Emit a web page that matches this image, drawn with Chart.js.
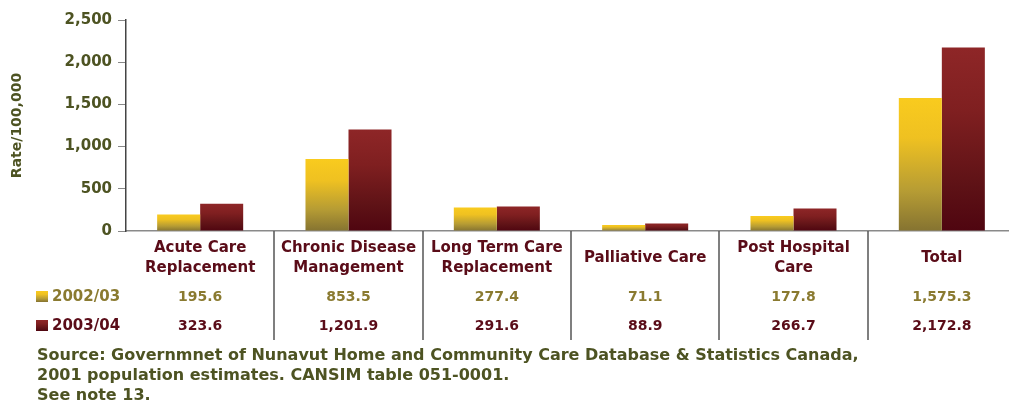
<!DOCTYPE html>
<html>
<head>
<meta charset="utf-8">
<script src="https://cdn.jsdelivr.net/npm/chart.js@4.4.1/dist/chart.umd.min.js"></script>
<style>
  html, body { margin: 0; padding: 0; background: #fff; overflow: hidden; }
  #wrap { width: 1016px; height: 408px; }
</style>
</head>
<body>
<div id="wrap"><canvas id="chart" width="1016" height="408"></canvas></div>
<script>
// Home care rates per 100,000, Nunavut, two fiscal years.
const categories = [
  ['Acute Care', 'Replacement'],
  ['Chronic Disease', 'Management'],
  ['Long Term Care', 'Replacement'],
  'Palliative Care',
  ['Post Hospital', 'Care'],
  'Total',
];
const seriesLabels = ['2002/03', '2003/04'];
const rates0203 = [195.6, 853.5, 277.4, 71.1, 177.8, 1575.3];
const rates0304 = [323.6, 1201.9, 291.6, 88.9, 266.7, 2172.8];
const yTicks = [0, 500, 1000, 1500, 2000, 2500];
const sourceLines = [
  'Source: Governmnet of Nunavut Home and Community Care Database & Statistics Canada,',
  '2001 population estimates. CANSIM table 051-0001.',
  'See note 13.',
];

const FONT = "'DejaVu Sans', sans-serif";
const OLIVE_DARK = '#4d5322';
const OLIVE = '#8a7a30';
const MAROON = '#5a0c18';

// top -> bottom stops for the bar gradients
const YELLOW_STOPS = [[0, '#f9cb1e'], [0.3, '#efc121'], [0.7, '#b69c34'], [1, '#857331']];
const RED_STOPS = [[0, '#8e2627'], [0.35, '#7f1f20'], [0.75, '#5e1216'], [1, '#4f0510']];

const fmt = v => v.toLocaleString('en-US', { minimumFractionDigits: 1, maximumFractionDigits: 1 });

function gradient(ctx, y0, y1, stops) {
  const g = ctx.createLinearGradient(0, y0, 0, y1);
  stops.forEach(([p, c]) => g.addColorStop(p, c));
  return g;
}

// Gradient runs over each bar's own height.
function barFill(stops) {
  return context => {
    const chart = context.chart;
    const y = chart.scales.y;
    if (!chart.chartArea || !y || context.raw == null) return stops[0][1];
    return gradient(chart.ctx, y.getPixelForValue(context.raw), y.getPixelForValue(0), stops);
  };
}

// Data table, legend swatches, dividers and source note under the axis.
const tablePlugin = {
  id: 'table',
  afterDraw(chart) {
    const { ctx, chartArea, scales: { x } } = chart;
    const n = categories.length;
    ctx.save();

    ctx.strokeStyle = '#555';
    ctx.lineWidth = 1.5;
    for (let i = 1; i < n; i++) {
      const px = Math.round((x.getPixelForValue(i - 1) + x.getPixelForValue(i)) / 2);
      ctx.beginPath();
      ctx.moveTo(px, chartArea.bottom);
      ctx.lineTo(px, 340);
      ctx.stroke();
    }

    const rows = [
      { label: seriesLabels[0], data: rates0203, color: OLIVE, stops: YELLOW_STOPS, y: 297 },
      { label: seriesLabels[1], data: rates0304, color: MAROON, stops: RED_STOPS, y: 326 },
    ];
    ctx.textBaseline = 'middle';
    rows.forEach(r => {
      ctx.fillStyle = gradient(ctx, r.y - 6, r.y + 5, r.stops);
      ctx.fillRect(36, r.y - 6, 12, 11);
      ctx.fillStyle = r.color;
      ctx.font = `bold 15px ${FONT}`;
      ctx.textAlign = 'left';
      ctx.fillText(r.label, 52, r.y);
      ctx.font = `bold 14px ${FONT}`;
      ctx.textAlign = 'center';
      r.data.forEach((v, i) => ctx.fillText(fmt(v), x.getPixelForValue(i), r.y));
    });

    ctx.fillStyle = OLIVE_DARK;
    ctx.font = `bold 16px ${FONT}`;
    ctx.textAlign = 'left';
    sourceLines.forEach((line, i) => ctx.fillText(line, 37, 356 + i * 20));
    ctx.restore();
  },
};

new Chart(document.getElementById('chart'), {
  type: 'bar',
  data: {
    labels: categories,
    datasets: [
      { label: seriesLabels[0], data: rates0203, backgroundColor: barFill(YELLOW_STOPS) },
      { label: seriesLabels[1], data: rates0304, backgroundColor: barFill(RED_STOPS) },
    ],
  },
  options: {
    responsive: false,
    animation: false,
    events: [],
    barPercentage: 1,
    categoryPercentage: 0.58,
    layout: { padding: { top: 20, right: 0, bottom: 0, left: 0 } },
    plugins: { legend: { display: false }, tooltip: { enabled: false } },
    scales: {
      x: {
        afterFit: s => { s.height = 177; },
        grid: { display: false },
        border: { color: '#8a8a8a', width: 1.5 },
        ticks: {
          color: MAROON,
          font: { family: FONT, size: 15, weight: 'bold', lineHeight: 1.33 },
          padding: 9,
          maxRotation: 0,
          autoSkip: false,
          crossAlign: 'center',
        },
      },
      y: {
        min: 0,
        max: 2500,
        afterFit: s => { s.width = 126; },
        afterBuildTicks: s => { s.ticks = yTicks.map(v => ({ value: v })); },
        grid: { drawOnChartArea: false, drawTicks: true, tickLength: 8, color: '#888', lineWidth: 1 },
        border: { color: '#444', width: 1.5 },
        ticks: {
          color: OLIVE_DARK,
          padding: 6,
          font: { family: FONT, size: 15, weight: 'bold' },
          callback: v => v.toLocaleString('en-US'),
        },
        title: {
          display: true,
          text: 'Rate/100,000',
          color: OLIVE_DARK,
          font: { family: FONT, size: 14, weight: 'bold' },
          padding: { top: 9, bottom: 0 },
        },
      },
    },
  },
  plugins: [tablePlugin],
});
</script>
</body>
</html>
